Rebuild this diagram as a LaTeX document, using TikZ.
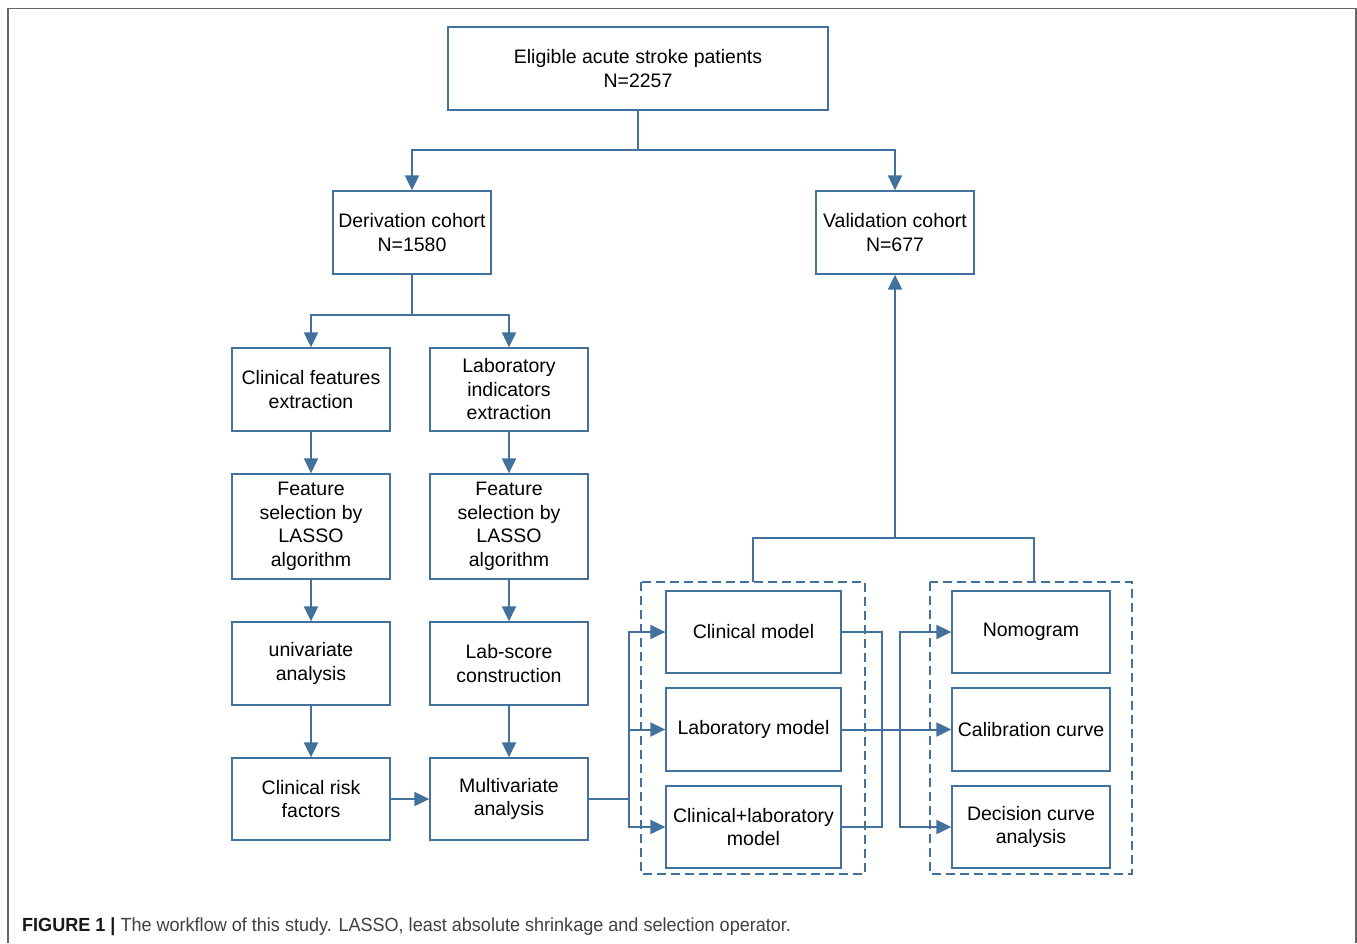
\documentclass[tikz,border=0pt]{standalone}
\usepackage{fontspec}
\setmainfont{Liberation Sans}
\newfontfamily\capfont[FakeStretch=0.95]{Liberation Sans}
\usetikzlibrary{arrows.meta}
\definecolor{lineblue}{HTML}{41719C}
\definecolor{framegray}{HTML}{666666}
\definecolor{captxt}{HTML}{404040}
\tikzset{
  box/.style={draw=lineblue, line width=1.3pt, fill=white, inner sep=2pt, align=center,
    font=\fontsize{19.5}{23.5}\selectfont, text=black},
  conn/.style={draw=lineblue, line width=2pt},
  arr/.style={conn, -{Triangle[length=15pt,width=14pt]}},
  dbox/.style={draw=lineblue, line width=1.3pt, dash pattern=on 9pt off 5pt},
}
\begin{document}
\begin{tikzpicture}[x=1pt,y=-1pt]
\useasboundingbox (0,0) rectangle (1357,943);
\draw[framegray, line width=1.5pt] (8,943) -- (8,8.5) -- (1356,8.5) -- (1356,943);
% dashed groups
\draw[dbox] (641,582) rectangle (865,874);
\draw[dbox] (930,582) rectangle (1132,874);
% nodes
\node[box, minimum width=380pt, minimum height=83pt] (top) at (638,68.5) {Eligible acute stroke patients\\N=2257};
\node[box, minimum width=158pt, minimum height=83pt] (der) at (412,232.5) {Derivation cohort\\N=1580};
\node[box, minimum width=158pt, minimum height=83pt] (val) at (895,232.5) {Validation cohort\\N=677};
\node[box, minimum width=158pt, minimum height=83pt] (cfe) at (311,389.5) {Clinical features\\extraction};
\node[box, minimum width=158pt, minimum height=83pt] (lie) at (509,389.5) {Laboratory\\indicators\\extraction};
\node[box, minimum width=158pt, minimum height=105pt] (fsl) at (311,526.5) {Feature\\selection by\\LASSO\\algorithm};
\node[box, minimum width=158pt, minimum height=105pt] (fsr) at (509,526.5) {Feature\\selection by\\LASSO\\algorithm};
\node[box, minimum width=158pt, minimum height=83pt] (uni) at (311,663.5) {univariate\\analysis};
\node[box, minimum width=158pt, minimum height=83pt] (lab) at (509,663.5) {Lab-score\\construction};
\node[box, minimum width=158pt, minimum height=82pt] (crf) at (311,799) {Clinical risk\\factors};
\node[box, minimum width=158pt, minimum height=82pt] (mva) at (509,799) {Multivariate\\analysis};
\node[box, minimum width=175pt, minimum height=82pt] (cm) at (753.5,632) {Clinical model};
\node[box, minimum width=175pt, minimum height=83pt] (lm) at (753.5,729.5) {Laboratory model};
\node[box, minimum width=175pt, minimum height=82pt] (clm) at (753.5,827) {Clinical+laboratory\\model};
\node[box, minimum width=158pt, minimum height=82pt] (nom) at (1031,632) {Nomogram};
\node[box, minimum width=158pt, minimum height=83pt] (cal) at (1031,729.5) {Calibration curve};
\node[box, minimum width=158pt, minimum height=82pt] (dca) at (1031,827) {Decision curve\\analysis};
% coordinates
\coordinate (g1top) at (753,582);
\coordinate (g2top) at (1034,582);
% connectors
\draw[conn] (top.south) -- (638,150);
\draw[arr] (638,150) -| (der.north);
\draw[arr] (638,150) -| (val.north);
\draw[conn] (der.south) -- (412,315);
\draw[arr] (412,315) -| (cfe.north);
\draw[arr] (412,315) -| (lie.north);
\draw[arr] (cfe) -- (fsl);
\draw[arr] (lie) -- (fsr);
\draw[arr] (fsl) -- (uni);
\draw[arr] (fsr) -- (lab);
\draw[arr] (uni) -- (crf);
\draw[arr] (lab) -- (mva);
\draw[arr] (crf) -- (mva);
\draw[conn] (mva.east) -- (629,799);
\draw[arr] (629,799) |- (cm.west);
\draw[arr] (629,799) |- (lm.west);
\draw[arr] (629,799) |- (clm.west);
\draw[conn] (cm.east) -| (882,729.5);
\draw[conn] (clm.east) -| (882,729.5);
\draw[arr] (lm.east) -- (cal.west);
\draw[arr] (900,729.5) |- (nom.west);
\draw[arr] (900,729.5) |- (dca.west);
\draw[conn] (g1top) |- (895,538) -| (g2top);
\draw[arr] (895,538) -- (val.south);
% caption
\node[anchor=base west, inner sep=0pt, font=\capfont\fontsize{19}{21}\selectfont, text=captxt] (cap) at (22,931)
  {\textbf{\color{black!90}FIGURE 1 |} The workflow of this study. LASSO, least absolute shrinkage and selection operator.};
\end{tikzpicture}
\end{document}
